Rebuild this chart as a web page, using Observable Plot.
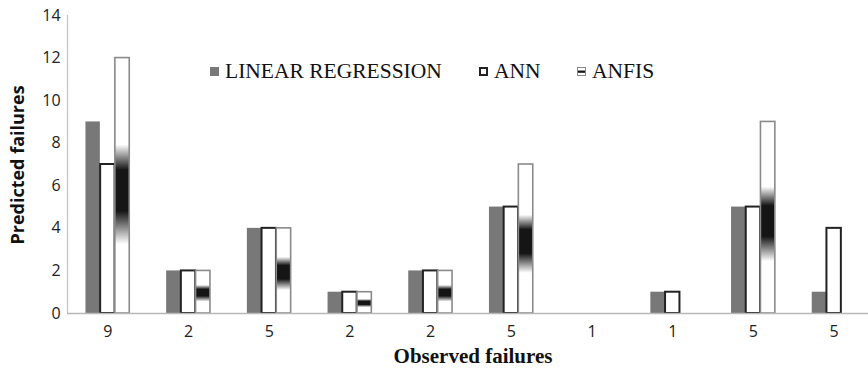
<!DOCTYPE html>
<html><head><meta charset="utf-8">
<script src="https://cdn.jsdelivr.net/npm/d3@7"></script>
<script src="https://cdn.jsdelivr.net/npm/@observablehq/plot@0.6"></script>
<style>
html,body{margin:0;padding:0;background:#fff;overflow:hidden}
#wrap{position:relative;width:868px;height:373px;overflow:hidden}
#wrap svg{max-width:none !important;height:373px !important}
.leg{position:absolute;top:58px;font-family:"Liberation Serif","Times New Roman",serif;font-size:21.5px;color:#111;white-space:nowrap;display:flex;align-items:center;line-height:26px}
.sw{display:inline-block;width:9px;height:9px;margin-right:6px;box-sizing:border-box}
#ylab{position:absolute;left:17px;top:165px;transform:translate(-50%,-50%) rotate(-90deg);font-family:"Open Sans",sans-serif;font-weight:bold;font-size:18px;color:#111;white-space:nowrap}
#xlab{position:absolute;left:473px;top:356px;transform:translate(-50%,-50%);font-family:"Liberation Serif","Times New Roman",serif;font-weight:bold;font-size:21px;color:#111;white-space:nowrap}
</style></head><body>
<div id="wrap"></div>
<script>
const observed = ["9","2","5","2","2","5","1","1","5","5"];
const series = ["LINEAR REGRESSION","ANN","ANFIS"];
const linearRegression = [9,2,4,1,2,5,0,1,5,1];
const ann = [7,2,4,1,2,5,0,1,5,4];
const anfis = [12,2,4,1,2,7,0,0,9,0];
const yTicks = [0,2,4,6,8,10,12,14];

const data = [];
observed.forEach((o, i) => {
  data.push({group: i, series: series[0], value: linearRegression[i]});
  data.push({group: i, series: series[1], value: ann[i]});
  data.push({group: i, series: series[2], value: anfis[i]});
});

const chart = Plot.plot({
  width: 874, height: 373,
  marginLeft: 67, marginRight: 0, marginTop: 15, marginBottom: 60,
  style: {fontFamily: "'Open Sans', sans-serif", fontSize: "16px", color: "#222", background: "#fff", overflow: "visible", maxWidth: "none"},
  fx: {domain: d3.range(observed.length), paddingInner: 0.45, paddingOuter: 0.225, round: false, label: null},
  x: {domain: series, padding: 0.02, round: false, axis: null},
  y: {domain: [0, 14], axis: null},
  marks: [
    Plot.axisY({ticks: yTicks, tickSize: 0, tickPadding: 25, label: null, fontSize: 16}),
    Plot.axisFx({anchor: "bottom", tickSize: 0, tickPadding: 12, tickFormat: i => observed[i], label: null, fontSize: 16}),
    Plot.barY(data.filter(d => d.series === series[0]), {fx: "group", x: "series", y: "value", fill: "#787878"}),
    Plot.barY(data.filter(d => d.series === series[1] && d.value > 0), {fx: "group", x: "series", y: "value", fill: "white", stroke: "#222", strokeWidth: 2}),
    Plot.barY(data.filter(d => d.series === series[2] && d.value > 0), {fx: "group", x: "series", y: "value", fill: "url(#anfisGrad)", stroke: "#8a8a8a", strokeWidth: 1.6})
  ]
});

const svg = d3.select(chart);
const defs = svg.insert("defs", ":first-child");
const g = defs.append("linearGradient").attr("id", "anfisGrad").attr("x1", 0).attr("y1", 0).attr("x2", 0).attr("y2", 1);
[[0,"#fff"],[0.34,"#fff"],[0.44,"#151515"],[0.6,"#151515"],[0.73,"#fff"],[1,"#fff"]].forEach(([o,c]) =>
  g.append("stop").attr("offset", o).attr("stop-color", c));

// axis lines using the plot's own scale
const ys = chart.scale("y");
const y0 = ys.apply(0), y14 = ys.apply(14);
svg.append("line").attr("x1", 67.5).attr("x2", 67.5).attr("y1", y0).attr("y2", y14).attr("stroke", "#c4c4c4").attr("stroke-width", 1.3);
svg.append("line").attr("x1", 67).attr("x2", 874).attr("y1", y0 + 0.5).attr("y2", y0 + 0.5).attr("stroke", "#b8b8b8").attr("stroke-width", 1.6);

const wrap = document.getElementById("wrap");
wrap.appendChild(chart);

function addDiv(html, cls, style, id) {
  const d = document.createElement("div");
  if (cls) d.className = cls;
  if (id) d.id = id;
  if (style) d.setAttribute("style", style);
  d.innerHTML = html;
  wrap.appendChild(d);
}
addDiv('<span class="sw" style="background:#787878"></span>' + series[0], "leg", "left:210px");
addDiv('<span class="sw" style="background:#fff;border:2px solid #222"></span>' + series[1], "leg", "left:479px");
addDiv('<span class="sw" style="background:linear-gradient(#fff 0%,#fff 30%,#151515 42%,#151515 62%,#fff 75%,#fff 100%);border:1.5px solid #888"></span>' + series[2], "leg", "left:577px");
addDiv("Predicted failures", null, null, "ylab");
addDiv("Observed failures", null, null, "xlab");
</script>
</body></html>
